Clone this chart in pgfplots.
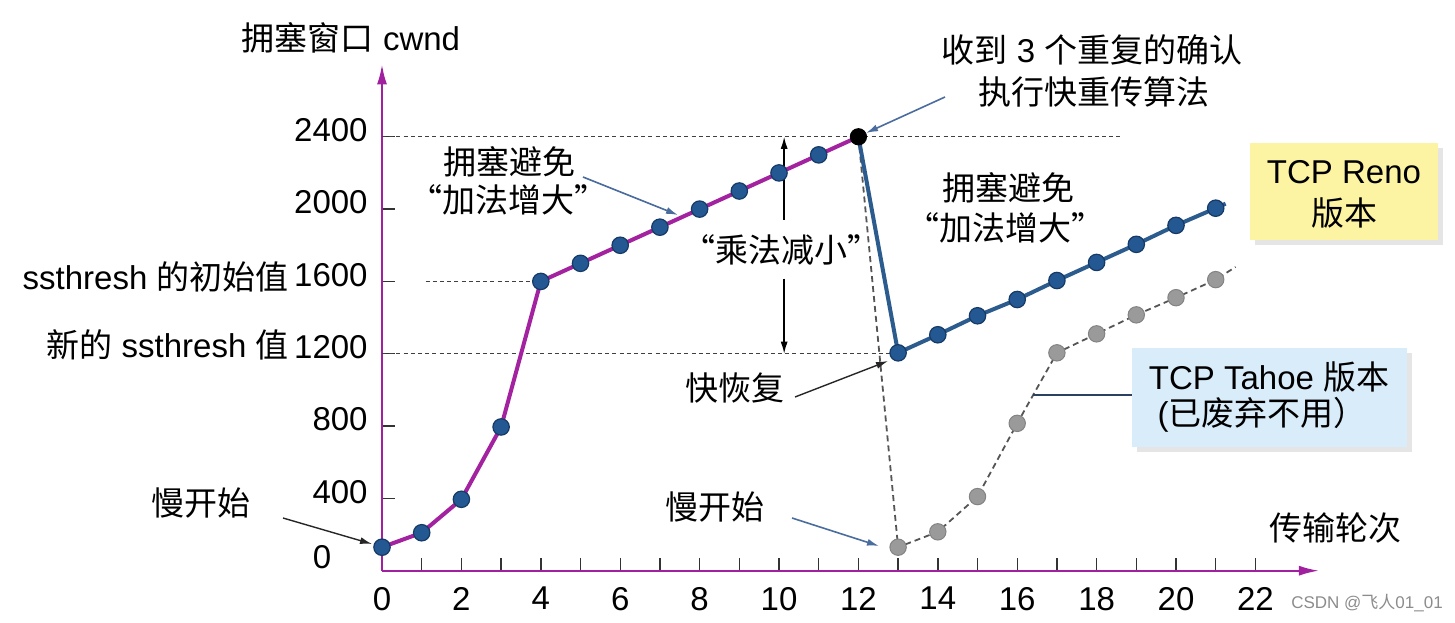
\documentclass[border=0pt]{standalone}
\usepackage{fontspec}
\setmainfont{Liberation Sans}
\newfontfamily\cjk{Noto Sans CJK SC}
\usepackage{pgfplots}
\pgfplotsset{compat=1.18}
\usetikzlibrary{arrows.meta}
\definecolor{axpurple}{HTML}{A0209F}
\definecolor{linepurple}{HTML}{A3229F}
\definecolor{dotblue}{HTML}{245892}
\definecolor{dotedge}{HTML}{163A66}
\definecolor{renoblue}{HTML}{2C5B8E}
\definecolor{tgray}{HTML}{9A9A9A}
\definecolor{tdash}{HTML}{555555}
\definecolor{annblue}{HTML}{4A6C9E}
\definecolor{boxyellow}{HTML}{FCF4A3}
\definecolor{boxblue}{HTML}{D8ECFA}
\newcommand\F{\fontsize{16.5}{20}\selectfont}
\begin{document}
\begin{tikzpicture}
\useasboundingbox (0,0) rectangle (727.5pt,311pt);
\begin{axis}[
  at={(191pt,25.65pt)}, anchor=origin,
  x=19.85pt, y=0.0904pt,
  xmin=0, xmax=23.6, ymin=0, ymax=2800,
  axis lines=left,
  axis line style={draw=axpurple, line width=1pt, -{Latex[length=10pt,width=5pt]}},
  xtick={0,2,...,22}, minor xtick={1,3,...,21},
  ytick={400,800,...,2400},
  tick align=inside,
  major tick length=6.5pt, minor tick length=6.5pt,
  tick style={draw=black!80, line width=0.7pt},
  tick label style={font=\F},
  xticklabel style={inner sep=0pt, yshift=-8pt},
  yticklabel style={inner sep=0pt, xshift=-7pt, yshift=3.3pt},
  /pgf/number format/assume math mode=true,
  /pgf/number format/1000 sep={},
  scaled ticks=false,
  clip=false,
]
% guide lines
\addplot[black!75, line width=0.6pt, dash pattern=on 2pt off 1.6pt] coordinates {(0,2400)(18.6,2400)};
\addplot[black!75, line width=0.6pt, dash pattern=on 2pt off 1.6pt] coordinates {(1.1,1600)(4,1600)};
\addplot[black!75, line width=0.6pt, dash pattern=on 2pt off 1.6pt] coordinates {(0,1200)(13,1200)};
% Tahoe
\addplot[only marks, mark=*, mark size=4.1pt, mark options={fill=tgray, draw=tgray!85!black, line width=0.5pt}] coordinates {(13,130)(14,215)(15,410)(16,815)(17,1205)(18,1310)(19,1415)(20,1510)(21,1610)};
\addplot[tdash, line width=0.9pt, dash pattern=on 3pt off 2pt] coordinates {(12,2400)(13,130)(14,215)(15,410)(16,815)(17,1205)(18,1310)(19,1415)(20,1510)(21,1610)(21.5,1680)};
% slow start + congestion avoidance
\addplot[draw=linepurple, line width=2pt] coordinates {(0,130)(1,210)(2,395)(3,795)(4,1600)(5,1700)(6,1800)(7,1900)(8,2000)(9,2100)(10,2200)(11,2300)(12,2400)};
% Reno
\addplot[draw=renoblue, line width=2pt] coordinates {(12,2400)(13,1205)(14,1305)(15,1410)(16,1500)(17,1605)(18,1705)(19,1805)(20,1910)(21,2005)(21.25,2030)};
\addplot[only marks, mark=*, mark size=4.1pt, mark options={fill=dotblue, draw=dotedge, line width=0.6pt}] coordinates {(0,130)(1,210)(2,395)(3,795)(4,1600)(5,1700)(6,1800)(7,1900)(8,2000)(9,2100)(10,2200)(11,2300)(13,1205)(14,1305)(15,1410)(16,1500)(17,1605)(18,1705)(19,1805)(20,1910)(21,2005)};
\addplot[only marks, mark=*, mark size=4.1pt, mark options={fill=black, draw=black}] coordinates {(12,2400)};
% multiplicative decrease arrow
\draw[black, line width=0.7pt, -{Latex[length=6pt,width=3.5pt]}] (axis cs:10.13,1940) -- (axis cs:10.13,2400);
\draw[black, line width=0.7pt, -{Latex[length=6pt,width=3.5pt]}] (axis cs:10.13,1615) -- (axis cs:10.13,1200);
\end{axis}
\begin{scope}[shift={(0,311pt)}, x=0.5pt, y=-0.5pt]
\tikzset{every node/.style={font=\F, inner sep=0pt}}
\node at (351,38) {{\cjk 拥塞窗口} cwnd};
\node at (322,557) {0};
\node[anchor=east] at (289,277) {ssthresh {\cjk 的初始值}};
\node[anchor=east] at (289,345) {{\cjk 新的} ssthresh {\cjk 值}};
% left slow start
\node at (201,503) {\cjk 慢开始};
\draw[black!85, line width=0.7pt, -{Latex[length=6pt,width=3.5pt]}] (283,518) -- (372,544);
% congestion avoidance 1
\node at (509,162) {\cjk 拥塞避免};
\node at (508,200) {\cjk “加法增大”};
\draw[annblue, line width=0.8pt, -{Latex[length=6pt,width=3.5pt]}] (583,177) -- (678,215);
% multiplicative decrease
\node at (781,250) {\cjk “乘法减小”};
% 3 dup acks
\node at (1092,50) {{\cjk 收到} 3 {\cjk 个重复的确认}};
\node at (1094,92) {\cjk 执行快重传算法};
\draw[annblue, line width=0.8pt, -{Latex[length=6pt,width=3.5pt]}] (945,97) -- (866,133);
% congestion avoidance 2
\node at (1008,188) {\cjk 拥塞避免};
\node at (1005,228) {\cjk “加法增大”};
% fast recovery
\node at (735,388) {\cjk 快恢复};
\draw[black!85, line width=0.7pt, -{Latex[length=6pt,width=3.5pt]}] (795,397) -- (888,361);
% slow start mid
\node at (715,507) {\cjk 慢开始};
\draw[annblue, line width=0.8pt, -{Latex[length=6pt,width=3.5pt]}] (792,518) -- (879,546);
% Reno box
\fill[black!10] (1255,148) rectangle (1443,245);
\fill[boxyellow] (1250,143) rectangle (1438,240);
\node at (1344,172) {TCP Reno};
\node at (1344,213) {\cjk 版本};
% Tahoe box
\fill[black!10] (1137,353) rectangle (1412,452);
\fill[boxblue] (1132,348) rectangle (1407,447);
\draw[draw=black!40!annblue, line width=0.8pt] (1033,395) -- (1132,395);
\node at (1269,377) {TCP Tahoe {\cjk 版本}};
\node at (1262,415) {({\cjk 已废弃不用）}};
% x label
\node at (1335,528) {\cjk 传输轮次};
% watermark
\node[text=black!45, font=\fontsize{8.5}{10}\selectfont] at (1367,603) {CSDN @{\cjk 飞人}01\_01};
\end{scope}
\end{tikzpicture}
\end{document}
